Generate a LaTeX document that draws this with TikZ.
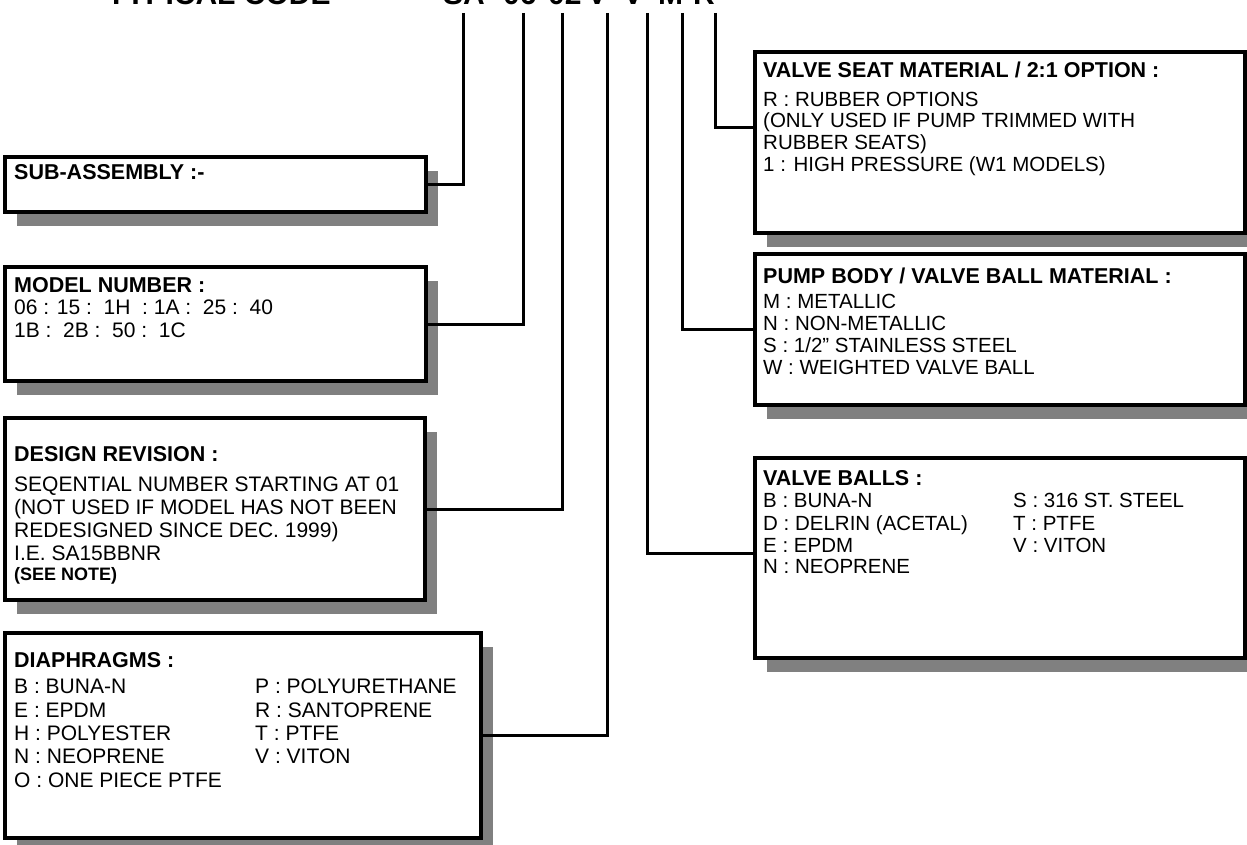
\documentclass[tikz,border=0pt]{standalone}
\usepackage{fontspec}
\setmainfont{Liberation Sans}
\usetikzlibrary{shadows}
\definecolor{shadowgray}{HTML}{808080}
\begin{document}
\begin{tikzpicture}[x=1pt,y=-1pt,
  box/.style={draw=black, line width=3.6pt, fill=white, inner sep=0pt, outer sep=0pt, anchor=north west,
    drop shadow={shadow xshift=12pt, shadow yshift=-14pt, fill=shadowgray, opacity=1}},
  conn/.style={draw=black, line width=3pt, line join=miter},
  hdr/.style={anchor=base west, inner sep=0pt, font=\bfseries\fontsize{21.5}{23}\selectfont},
  txt/.style={anchor=base west, inner sep=0pt, font=\fontsize{20.5}{22}\selectfont},
  txtb/.style={anchor=base west, inner sep=0pt, font=\fontsize{21}{23}\selectfont},
  ttl/.style={anchor=base west, inner sep=0pt, font=\bfseries\fontsize{30}{32}\selectfont}]
\useasboundingbox[fill=white] (0,0) rectangle (1247,845);

% title (mostly cut off at the top)
\node[ttl] (title) at (107,4.5) {TYPICAL CODE};
\node[ttl] (cSA) at (443,4.5) {SA};
\node[ttl] (c06) at (503,4.5) {06};
\node[ttl] (c02) at (548,4.5) {02};
\node[ttl] (cV1) at (587,4.5) {V};
\node[ttl] (cV2) at (623,4.5) {V};
\node[ttl] (cM) at (658,4.5) {M};
\node[ttl] (cR) at (693,4.5) {R};

% boxes
\node[box, minimum width=421pt, minimum height=55pt] (sub) at (5,157) {};
\node[box, minimum width=421pt, minimum height=114pt] (model) at (5,267) {};
\node[box, minimum width=420pt, minimum height=182pt] (design) at (5,418) {};
\node[box, minimum width=476pt, minimum height=205pt] (diaph) at (5,633) {};
\node[box, minimum width=490pt, minimum height=181pt] (seat) at (755,52) {};
\node[box, minimum width=490pt, minimum height=151pt] (body) at (755,254) {};
\node[box, minimum width=490pt, minimum height=200pt] (balls) at (755,458) {};

% texts
\node[hdr] (subH) at (14,180) {SUB-ASSEMBLY :-};

\node[hdr] (modelH) at (14,292) {MODEL NUMBER :};
\node[txtb] (model1) at (14,314) {06 : 15 :\ \ 1H\ \ : 1A :\ \ 25 :\ \ 40};
\node[txtb] (model2) at (14,337) {1B :\ \ 2B :\ \ 50 :\ \ 1C};

\node[hdr] (designH) at (14,461) {DESIGN REVISION :};
\node[txtb] (design1) at (14,491) {SEQENTIAL NUMBER STARTING AT 01};
\node[txtb] (design2) at (14,514) {(NOT USED IF MODEL HAS NOT BEEN};
\node[txtb] (design3) at (14,537) {REDESIGNED SINCE DEC. 1999)};
\node[txtb] (design4) at (14,560) {I.E. SA15BBNR};
\node[hdr, font=\bfseries\fontsize{18}{20}\selectfont] (design5) at (14,580) {(SEE NOTE)};

\node[hdr] (diaphH) at (14,667) {DIAPHRAGMS :};
\node[txtb] (d1) at (14,693) {B : BUNA-N};
\node[txtb] (d2) at (14,717) {E : EPDM};
\node[txtb] (d3) at (14,740) {H : POLYESTER};
\node[txtb] (d4) at (14,763) {N : NEOPRENE};
\node[txtb] (d5) at (14,787) {O : ONE PIECE PTFE};
\node[txtb] (d6) at (255,693) {P : POLYURETHANE};
\node[txtb] (d7) at (255,717) {R : SANTOPRENE};
\node[txtb] (d8) at (255,740) {T : PTFE};
\node[txtb] (d9) at (255,763) {V : VITON};

\node[hdr] (seatH) at (763,78) {VALVE SEAT MATERIAL / 2:1 OPTION :};
\node[txt] (s1) at (763,107) {R : RUBBER OPTIONS};
\node[txt] (s2) at (763,128) {(ONLY USED IF PUMP TRIMMED WITH};
\node[txt] (s3) at (763,150) {RUBBER SEATS)};
\node[txt] (s4) at (763,172) {1 : HIGH PRESSURE (W1 MODELS)};

\node[hdr] (bodyH) at (763,283) {PUMP BODY / VALVE BALL MATERIAL :};
\node[txt] (b1) at (763,308) {M : METALLIC};
\node[txt] (b2) at (763,330) {N : NON-METALLIC};
\node[txt] (b3) at (763,352) {S : 1/2” STAINLESS STEEL};
\node[txt] (b4) at (763,374) {W : WEIGHTED VALVE BALL};

\node[hdr] (ballsH) at (763,485) {VALVE BALLS :};
\node[txt] (v1) at (763,507) {B : BUNA-N};
\node[txt] (v2) at (763,530) {D : DELRIN (ACETAL)};
\node[txt] (v3) at (763,552) {E : EPDM};
\node[txt] (v4) at (763,573) {N : NEOPRENE};
\node[txt] (v5) at (1013,507) {S : 316 ST. STEEL};
\node[txt] (v6) at (1013,530) {T : PTFE};
\node[txt] (v7) at (1013,552) {V : VITON};

% connector top ends
\coordinate (t1) at (463,13);
\coordinate (t2) at (523,13);
\coordinate (t3) at (562,13);
\coordinate (t4) at (607,13);
\coordinate (t5) at (647,13);
\coordinate (t6) at (682,13);
\coordinate (t7) at (715,13);

\draw[conn] (t1) |- (sub.east);
\draw[conn] (t2) |- (model.east);
\draw[conn] (t3) |- (design.east);
\draw[conn] (t4) |- (diaph.east);
\draw[conn] (t5) |- ([yshift=5pt]balls.west);
\draw[conn] (t6) |- (body.west);
\draw[conn] (t7) |- ([yshift=14.5pt]seat.west);
\end{tikzpicture}
\end{document}
